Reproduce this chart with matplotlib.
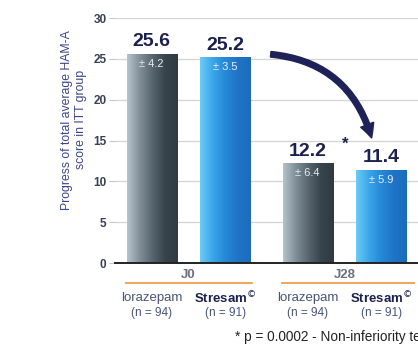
import numpy as np
import matplotlib
matplotlib.use('Agg')
import matplotlib.pyplot as plt
from matplotlib.colors import LinearSegmentedColormap
from matplotlib.patches import FancyArrowPatch

# data
groups = ['J0', 'J28']
drugs = ['lorazepam', 'Stresam$^{\u00a9}$']
counts = ['(n = 94)', '(n = 91)']
values = [[25.6, 25.2], [12.2, 11.4]]
sds = [4.2, 3.5, 6.4, 5.9]
yticks = [0, 5, 10, 15, 20, 25, 30]

narrow = ['DejaVu Sans Condensed', 'Liberation Sans Narrow', 'Liberation Sans', 'DejaVu Sans']
plt.rcParams['font.family'] = narrow

fig = plt.figure(figsize=(4.18, 3.55), dpi=100)
ax = fig.add_axes([0.275, 0.259, 0.725, 0.690])

gray_cm = LinearSegmentedColormap.from_list('g', ['#b4c2ca', '#7f8f98', '#56656e', '#38444c', '#2f3a42'])
blue_cm = LinearSegmentedColormap.from_list('b', ['#6ccaf4', '#3aa6e8', '#2688d8', '#1f74c6', '#1c6cbc'])
cmaps = [gray_cm, blue_cm]

width = 0.68
group_gap = 2.12
navy = '#1c2050'

k = 0
for g, grp in enumerate(groups):
    for i in range(2):
        x = g * group_gap + i
        v = values[g][i]
        bar = ax.bar(x, v, width, color='none', edgecolor='none', zorder=3)[0]
        grad = np.linspace(0, 1, 64).reshape(1, -1)
        im = ax.imshow(grad, cmap=cmaps[i], aspect='auto', zorder=3,
                       extent=[x - width / 2, x + width / 2, 0, v])
        im.set_clip_path(bar)
        ax.text(x, v + 0.45, f'{v}', ha='center', va='bottom', fontsize=14,
                fontweight='bold', color=navy)
        ax.text(x, v - 1.2, f'\u00b1 {sds[k]}', ha='center', va='center',
                fontsize=8, color='#e8eef4', zorder=4)
        # category labels below axis
        ax.text(x, -4.3, drugs[i], ha='center', va='center', fontsize=9.5,
                color='#4a5478' if i == 0 else navy,
                fontweight='normal' if i == 0 else 'bold', clip_on=False)
        ax.text(x, -6.1, counts[i], ha='center', va='center', fontsize=8.5,
                color='#4a5478', clip_on=False)
        k += 1
    gx = g * group_gap + 0.5
    ax.text(gx, -1.5, grp, ha='center', va='center', fontsize=9.5,
            fontweight='bold', color='#6a6f80', clip_on=False)
    x0 = g * group_gap - 0.35
    x1 = g * group_gap + 1.36 if g == 0 else g * group_gap + 1.45
    ax.plot([x0, x1], [-2.45, -2.45], color='#f0a048', lw=1.3, clip_on=False)

# curved arrow between J0 and J28 Stresam bars
arrow = FancyArrowPatch((1.58, 25.6), (3.0, 15.0),
                        connectionstyle='arc3,rad=-0.35',
                        arrowstyle='simple,head_width=10,head_length=10,tail_width=4',
                        color='#1e2258', zorder=5)
ax.add_patch(arrow)
ax.text(2.63, 14.5, '*', ha='center', va='center', fontsize=12,
        fontweight='bold', color=navy)

ax.set_xlim(-0.5, 3.62)
ax.set_ylim(0, 30)
ax.set_yticks(yticks)
ax.set_yticklabels([str(t) for t in yticks], fontsize=8.5, fontweight='bold',
                   color='#3a3f55')
ax.set_xticks([])
ax.tick_params(axis='y', length=4, color='#c8c8c8', pad=2)
for t in yticks[1:]:
    ax.axhline(t, color='#d4d4d4', lw=0.9, zorder=1)
for s in ['top', 'right', 'left']:
    ax.spines[s].set_visible(False)
ax.spines['bottom'].set_color('#222222')
ax.spines['bottom'].set_linewidth(1.4)
ax.spines['bottom'].set_zorder(6)

ax.set_ylabel('Progress of total average HAM-A\nscore in ITT group', fontsize=8.8,
              color='#3c4488', linespacing=1.25)
ax.yaxis.set_label_coords(-0.092, 0.585)

fig.text(0.562, 0.05, '* p = 0.0002 - Non-inferiority test', fontsize=9.8,
         color='#222222', va='center')

fig.savefig('out.png', dpi=100)
